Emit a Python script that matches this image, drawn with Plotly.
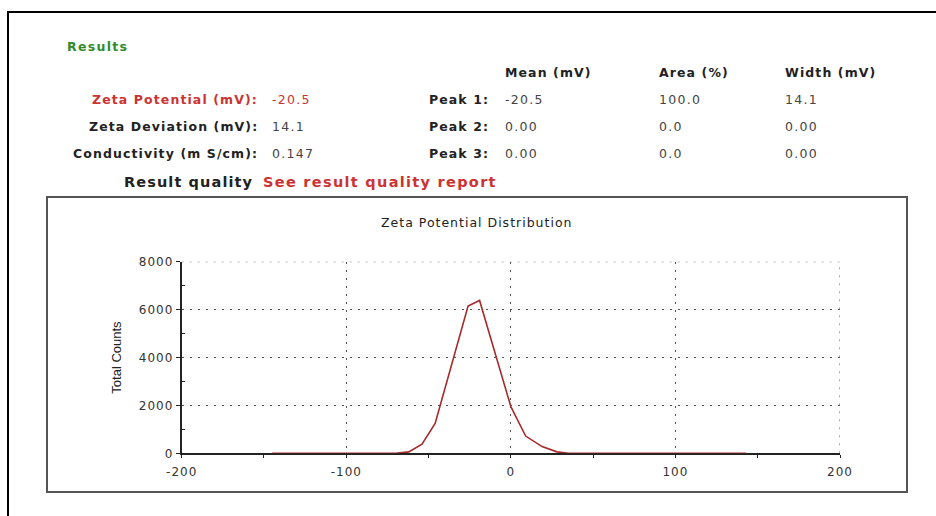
import plotly.graph_objects as go

# Distribution data (zeta potential in mV vs total counts)
zeta_mv = [-145, -70, -62, -54, -46, -35, -26, -19, 0, 9, 19, 28, 35, 143]
total_counts = [0, 0, 60, 380, 1250, 3900, 6150, 6380, 1950, 720, 280, 60, 0, 0]

# Axis ticks
x_ticks = [-200, -100, 0, 100, 200]
x_tick_labels = ["-200", "-100", "0", "100", "200"]
y_ticks = [0, 2000, 4000, 6000, 8000]
y_tick_labels = ["0", "2000", "4000", "6000", "8000"]

# Results table
summary_labels = ["Zeta Potential (mV):", "Zeta Deviation (mV):", "Conductivity (m S/cm):"]
summary_values = ["-20.5", "14.1", "0.147"]
peak_labels = ["Peak 1:", "Peak 2:", "Peak 3:"]
col_headers = ["Mean (mV)", "Area (%)", "Width (mV)"]
peak_mean = ["-20.5", "0.00", "0.00"]
peak_area = ["100.0", "0.0", "0.0"]
peak_width = ["14.1", "0.00", "0.00"]

W, H = 936, 516
FONT = "DejaVu Sans, Verdana, sans-serif"
RED = "#cc3333"
GRID = dict(color="#555", width=1, dash="2px,6px")


def px(x):
    return x / W


def py(y):
    return 1 - y / H


def sp(s, ls):
    return f'<span style="letter-spacing:{ls}px">{s}</span>'


fig = go.Figure()
fig.add_trace(go.Scatter(x=zeta_mv, y=total_counts, mode="lines",
                         line=dict(color="#a52a2a", width=1.6),
                         hoverinfo="x+y", showlegend=False))

ann = []


def text(x, y, s, color="#222", size=12.5, bold=False, anchor="left", ls=1.2):
    t = sp(s, ls)
    ann.append(dict(x=px(x), y=py(y), xref="paper", yref="paper",
                    text=f"<b>{t}</b>" if bold else t, showarrow=False,
                    xanchor=anchor, yanchor="middle",
                    font=dict(family=FONT, size=size, color=color)))


text(65, 46, "Results", color="#2e8b2e", bold=True, ls=1.3)
rows_y = [99, 126, 153]
for i, (lab, val) in enumerate(zip(summary_labels, summary_values)):
    c = RED if i == 0 else "#222"
    text(260, rows_y[i], lab, color=c, bold=True, anchor="right", ls=1.1)
    text(270, rows_y[i], val, color=c if i == 0 else "#444", ls=1.3)
for i, lab in enumerate(peak_labels):
    text(491, rows_y[i], lab, bold=True, anchor="right", ls=1.1)
cols_x = [503, 657, 783]
for cx, h in zip(cols_x, col_headers):
    text(cx, 72, h, bold=True, ls=1.1)
for i in range(3):
    text(cols_x[0], rows_y[i], peak_mean[i], color="#444", ls=1.3)
    text(cols_x[1], rows_y[i], peak_area[i], color="#444", ls=1.3)
    text(cols_x[2], rows_y[i], peak_width[i], color="#444", ls=1.3)
text(255, 182, "Result quality", size=14.5, bold=True, anchor="right", ls=1.1)
text(261, 182, "See result quality report", color=RED, size=14.5, bold=True, ls=1.3)
text(476, 222, "Zeta Potential Distribution", size=12.5, anchor="center", ls=1.0)

fig.update_layout(
    width=W, height=H,
    margin=dict(l=0, r=0, t=0, b=0, autoexpand=False),
    paper_bgcolor="white", plot_bgcolor="white",
    annotations=ann,
    font=dict(family=FONT, size=12, color="#222"),
    shapes=[
        dict(type="rect", xref="paper", yref="paper",
             x0=px(8), y0=py(12), x1=px(945), y1=py(530),
             line=dict(color="black", width=2)),
        dict(type="rect", xref="paper", yref="paper",
             x0=px(47), y0=py(197), x1=px(907), y1=py(492),
             line=dict(color="#555", width=2)),
        # dotted grid lines along the top and right edges of the plot area
        dict(type="line", xref="x", yref="y", layer="below",
             x0=x_ticks[0], x1=x_ticks[-1], y0=y_ticks[-1], y1=y_ticks[-1], line=GRID),
        dict(type="line", xref="x", yref="y", layer="below",
             x0=x_ticks[-1], x1=x_ticks[-1], y0=y_ticks[0], y1=y_ticks[-1], line=GRID),
    ],
    xaxis=dict(domain=[px(181.7), px(840)], range=[x_ticks[0], x_ticks[-1]], automargin=False,
               tickvals=x_ticks, ticktext=[sp(t, 1.0) for t in x_tick_labels],
               showline=True, linecolor="#222", linewidth=2, layer="below traces",
               ticks="outside", ticklen=3, tickcolor="#222", ticklabelstandoff=3,
               showgrid=True, gridcolor="#555", griddash="2px,6px", gridwidth=1,
               zeroline=False,
               minor=dict(tickvals=[-150, -50, 50, 150], ticks="outside", ticklen=3,
                          tickcolor="#222", showgrid=False),
               tickfont=dict(family=FONT, size=12, color="#333")),
    yaxis=dict(domain=[py(453.3), py(261.7)], range=[y_ticks[0], y_ticks[-1]], automargin=False,
               tickvals=y_ticks, ticktext=[sp(t, 1.0) for t in y_tick_labels],
               showline=True, linecolor="#222", linewidth=2,
               ticks="outside", ticklen=4, tickcolor="#222",
               showgrid=True, gridcolor="#555", griddash="2px,6px", gridwidth=1,
               zeroline=False,
               minor=dict(tickvals=[1000, 3000, 5000, 7000], ticks="inside", ticklen=3,
                          tickcolor="#222", showgrid=False),
               title=dict(text="Total Counts", font=dict(family="Liberation Sans, Arial, sans-serif",
                                                         size=13, color="#222"), standoff=14),
               tickfont=dict(family=FONT, size=12, color="#333")),
)

fig.write_html("out.html")
